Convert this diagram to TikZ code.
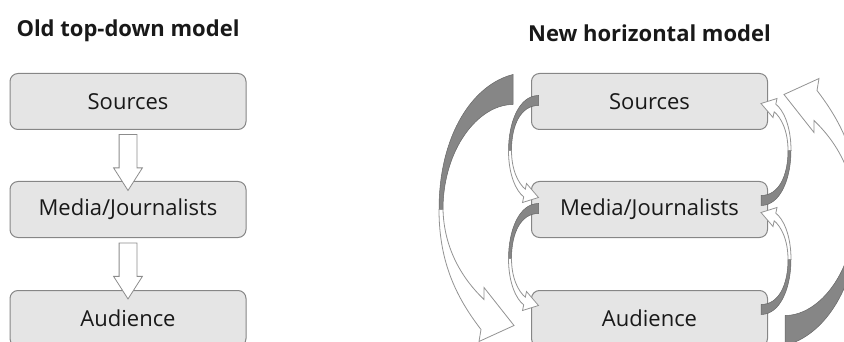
\documentclass[tikz,border=0pt]{standalone}
\usepackage{fontspec}
\setmainfont{Open Sans}
\usetikzlibrary{shapes,arrows,positioning}
\tikzstyle{box}=[rectangle,draw=gray!95,line width=1pt,rounded corners=8pt,fill=gray!20,minimum width=236pt,minimum height=56pt,text=black!90,font=\fontsize{22}{26}\selectfont]
\tikzstyle{title}=[text=black!90,inner sep=0pt,font=\fontsize{22}{25}\selectfont\bfseries]
\tikzstyle{downarr}=[single arrow,draw=gray!90,fill=white,line width=0.8pt,shape border rotate=270,inner sep=8.5pt,minimum height=56pt,single arrow head extend=5.5pt,single arrow tip angle=65]
\tikzstyle{bandback}=[fill=gray!95,draw=gray!80!black,line width=0.5pt]
\tikzstyle{bandfront}=[fill=white,draw=gray!85,line width=0.8pt]
\tikzset{
  loopsmall/.pic={
    \path[bandback] (0,0) .. controls (-20,0) and (-30,28) .. (-30,55) -- (-27,55) .. controls (-27,30) and (-18,10) .. (0,10) -- cycle;
    \path[bandfront] (-30,55) .. controls (-30,80) and (-22,96) .. (-14.8,101.3) -- (-16,107) -- (0,102) -- (-12,88) -- (-13.2,93.7) .. controls (-20,88) and (-27,75) .. (-27,55) -- cycle;
  },
  loopbig/.pic={
    \path[bandback] (0,0) .. controls (-40,10) and (-74,60) .. (-74,135) -- (-70,135) .. controls (-70,75) and (-35,30) .. (0,30) -- cycle;
    \path[bandfront] (-74,135) .. controls (-74,190) and (-55,225) .. (-32,255) -- (-34,267) -- (1,251) -- (-29,213) -- (-29,225) .. controls (-50,205) and (-69,175) .. (-70,135) -- cycle;
  }
}

\begin{document}
\begin{tikzpicture}[x=1pt,y=-1pt]
\useasboundingbox (0,0) rectangle (844,342);
% old model
\node[box] (s1) at (128,101.5) {Sources};
\node[box, below=51pt of s1] (m1) {Media/Journalists};
\node[box, below=52pt of m1] (a1) {Audience};
\node[title, above=31.5pt of s1] (t1) {Old top-down model};
\path (s1.south) -- node[downarr]{} (m1.north);
\path (m1.south) -- node[downarr]{} (a1.north);
% new model
\node[box, right=284.5pt of s1] (s2) {Sources};
\node[box, below=51pt of s2] (m2) {Media/Journalists};
\node[box, below=52pt of m2] (a2) {Audience};
\node[title, above=31.5pt of s2] (t2) {New horizontal model};
\pic at ([xshift=7.5pt,yshift=6pt]s2.west) {loopsmall};
\pic at ([xshift=7.5pt,yshift=6pt]m2.west) {loopsmall};
\pic[rotate=180] at ([xshift=-7pt,yshift=4pt]m2.east) {loopsmall};
\pic[rotate=180] at ([xshift=-7pt,yshift=4pt]a2.east) {loopsmall};
\pic at ([xshift=-18pt,yshift=27pt]s2.west) {loopbig};
\pic[rotate=180] at ([xshift=17pt,yshift=-27pt]a2.east) {loopbig};
\end{tikzpicture}
\end{document}
